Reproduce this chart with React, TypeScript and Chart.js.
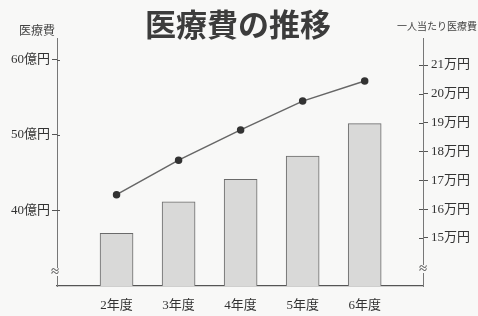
import React, { useEffect, useRef } from "react";
import { Chart, registerables } from "chart.js";

Chart.register(...registerables);

const categories = ["2年度", "3年度", "4年度", "5年度", "6年度"];
const totalCost = [36.9, 41.1, 44.1, 47.2, 51.5]; // 億円
const perCapita = [16.5, 17.7, 18.75, 19.75, 20.45]; // 万円
const leftTicks = [40, 50, 60];
const rightTicks = [15, 16, 17, 18, 19, 20, 21];
const chartTitle = "医療費の推移";
const leftTitle = "医療費";
const rightTitle = "一人当たり医療費";

const serif = '"Liberation Serif", "Noto Sans CJK JP", serif';
const cjk = '"Noto Sans CJK JP", sans-serif';

const decorPlugin = {
  id: "decor",
  beforeDraw(chart: any) {
    const { ctx, width, height } = chart;
    ctx.save();
    ctx.fillStyle = "#f8f8f7";
    ctx.fillRect(0, 0, width, height);
    ctx.restore();
  },
  afterDraw(chart: any) {
    const { ctx, chartArea } = chart;
    ctx.save();
    ctx.fillStyle = "#3c3c3c";
    ctx.font = `bold 31px ${cjk}`;
    ctx.textAlign = "center";
    ctx.textBaseline = "middle";
    ctx.fillText(chartTitle, 238, 24);

    ctx.fillStyle = "#444";
    ctx.font = `12px ${cjk}`;
    ctx.textAlign = "left";
    ctx.fillText(leftTitle, 19, 30);
    ctx.font = `10px ${cjk}`;
    ctx.fillText(rightTitle, 397, 26);

    // axis break marks
    const drawBreak = (x: number, y: number) => {
      ctx.fillStyle = "#f8f8f7";
      ctx.fillRect(x - 5, y - 4, 10, 8);
      ctx.fillStyle = "#444";
      ctx.font = `15px ${serif}`;
      ctx.textAlign = "center";
      ctx.fillText("≈", x, y);
    };
    drawBreak(chartArea.left - 2, 272);
    drawBreak(chartArea.right, 269);

    // ticks crossing into chart area
    ctx.strokeStyle = "#555";
    ctx.lineWidth = 1;
    const ys = chart.scales.y;
    const yr = chart.scales.y1;
    leftTicks.forEach((v) => {
      const py = Math.round(ys.getPixelForValue(v)) + 0.5;
      ctx.beginPath();
      ctx.moveTo(chartArea.left, py);
      ctx.lineTo(chartArea.left + 3, py);
      ctx.stroke();
    });
    rightTicks.forEach((v) => {
      const py = Math.round(yr.getPixelForValue(v)) + 0.5;
      ctx.beginPath();
      ctx.moveTo(chartArea.right - 4, py);
      ctx.lineTo(chartArea.right, py);
      ctx.stroke();
    });
    ctx.restore();
  },
};

export default function App() {
  const ref = useRef<HTMLCanvasElement | null>(null);
  useEffect(() => {
    document.body.style.margin = "0";
    const chart = new Chart(ref.current as HTMLCanvasElement, {
      type: "bar",
      data: {
        datasets: [
          {
            type: "line",
            data: categories.map((_, i) => ({ x: i, y: perCapita[i] })),
            yAxisID: "y1",
            borderColor: "#666",
            borderWidth: 1.5,
            pointBackgroundColor: "#333",
            pointBorderColor: "#333",
            pointRadius: 3,
            tension: 0,
          } as any,
          {
            type: "bar",
            data: categories.map((_, i) => ({ x: i, y: totalCost[i] })),
            yAxisID: "y",
            backgroundColor: "#d9d9d8",
            borderColor: "#6a6a6a",
            borderWidth: 1,
            barThickness: 33,
          } as any,
        ],
      },
      options: {
        animation: false,
        responsive: false,
        layout: { padding: { top: 38, left: 0, right: 0, bottom: 0 } },
        plugins: { legend: { display: false }, tooltip: { enabled: false } },
        scales: {
          x: {
            type: "linear",
            offset: false,
            min: -0.96,
            max: 4.94,
            afterBuildTicks: (s: any) => {
              s.ticks = categories.map((_, i) => ({ value: i }));
            },
            afterFit: (s: any) => {
              s.height = 30;
            },
            grid: { display: false, offset: false },
            border: { display: true, color: "#555", width: 1.2 },
            ticks: {
              callback: (v: any) => categories[v] ?? "",
              color: "#333",
              font: { family: serif, size: 13 },
              padding: 4,
              maxRotation: 0,
            },
          },
          y: {
            position: "left",
            min: 29.9,
            max: 62.9,
            afterBuildTicks: (s: any) => {
              s.ticks = leftTicks.map((v) => ({ value: v }));
            },
            afterFit: (s: any) => {
              s.width = 57;
            },
            grid: { drawOnChartArea: false, tickLength: 5, color: "#555" },
            border: { display: true, color: "#777", width: 1 },
            ticks: {
              callback: (v: any) => `${v}億円`,
              color: "#333",
              font: { family: serif, size: 13 },
              padding: 2,
            },
          },
          y1: {
            position: "right",
            min: 13.33,
            max: 21.94,
            afterBuildTicks: (s: any) => {
              s.ticks = rightTicks.map((v) => ({ value: v }));
            },
            afterFit: (s: any) => {
              s.width = 55;
            },
            grid: { drawOnChartArea: false, tickLength: 5, color: "#555" },
            border: { display: true, color: "#777", width: 1 },
            ticks: {
              callback: (v: any) => `${v}万円`,
              color: "#333",
              font: { family: serif, size: 13 },
              padding: 3,
            },
          },
        },
      },
      plugins: [decorPlugin],
    });
    return () => chart.destroy();
  }, []);
  return (
    <div style={{ position: "fixed", left: 0, top: 0, width: 478, height: 316 }}>
      <canvas ref={ref} width={478} height={316} style={{ width: 478, height: 316 }} />
    </div>
  );
}
